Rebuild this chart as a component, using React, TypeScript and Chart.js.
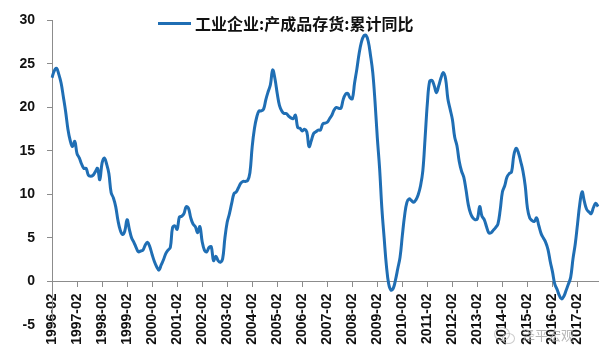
import React, { useEffect, useRef } from 'react';
import { Chart, registerables } from 'chart.js';

Chart.register(...registerables);

const SERIES_LABEL = '工业企业:产成品存货:累计同比';
const WATERMARK = '泽平宏观';
const LINE_COLOR = '#1F6EB4';
const AXIS_COLOR = '#8C8C8C';
const TEXT_COLOR = '#111111';

const YEARS = [1996, 1997, 1998, 1999, 2000, 2001, 2002, 2003, 2004, 2005, 2006, 2007, 2008, 2009, 2010, 2011, 2012, 2013, 2014, 2015, 2016, 2017];
const MONTHS = ['02', '03', '04', '05', '06', '07', '08', '09', '10', '11', '12'];

const v1996 = [23.4, 24.2, 24.5, 23.8, 22.8, 21.2, 19.5, 17.5, 16.2, 15.5, 16.1];
const v1997 = [14.7, 14.2, 13.5, 13.0, 13.0, 12.2, 12.1, 12.2, 12.6, 13.0, 11.7];
const v1998 = [13.6, 14.2, 13.5, 12.4, 10.2, 9.6, 8.6, 7.0, 5.9, 5.4, 5.8];
const v1999 = [7.1, 6.0, 5.0, 4.5, 3.9, 3.4, 3.5, 3.6, 4.2, 4.5, 4.0];
const v2000 = [3.1, 2.3, 1.7, 1.3, 1.9, 2.5, 3.2, 3.6, 3.9, 6.2, 6.4];
const v2001 = [6.0, 7.4, 7.5, 7.8, 8.6, 8.4, 7.3, 6.6, 6.3, 5.6, 6.3];
const v2002 = [4.6, 3.6, 3.4, 3.9, 4.0, 2.4, 2.9, 2.4, 2.2, 2.6, 5.0];
const v2003 = [6.8, 7.8, 9.0, 10.1, 10.3, 10.8, 11.3, 11.5, 11.5, 11.6, 12.5];
const v2004 = [15.5, 17.6, 18.9, 19.6, 19.6, 19.8, 20.9, 21.8, 22.6, 24.3, 23.3];
const v2005 = [21.6, 20.2, 19.6, 19.3, 19.3, 19.0, 18.8, 18.7, 19.1, 17.7, 17.6];
const v2006 = [17.3, 17.5, 17.2, 15.5, 16.2, 17.0, 17.2, 17.4, 17.4, 18.1, 18.2];
const v2007 = [18.3, 18.7, 19.1, 19.7, 20.0, 19.9, 19.9, 20.9, 21.5, 21.6, 21.1];
const v2008 = [21.0, 22.8, 24.4, 26.2, 27.5, 28.2, 28.3, 27.6, 26.0, 24.0, 20.6];
const v2009 = [16.5, 13.0, 8.4, 5.0, 1.8, -0.3, -1.0, -0.8, 0.2, 1.5, 2.8];
const v2010 = [5.3, 7.6, 9.1, 9.5, 9.3, 9.1, 9.4, 10.0, 11.0, 12.7, 16.5];
const v2011 = [20.5, 23.0, 23.1, 22.5, 21.7, 22.5, 23.4, 24.0, 23.3, 21.0, 19.8];
const v2012 = [18.6, 16.6, 15.6, 13.8, 12.7, 12.0, 10.5, 8.8, 7.8, 7.3, 7.1];
const v2013 = [7.2, 8.6, 7.5, 7.1, 6.3, 5.6, 5.6, 5.9, 6.2, 6.6, 8.2];
const v2014 = [10.3, 11.0, 12.0, 12.4, 12.6, 14.5, 15.3, 14.8, 13.8, 12.7, 11.0];
const v2015 = [8.4, 7.3, 7.0, 6.9, 7.3, 6.4, 5.5, 5.0, 4.5, 3.7, 2.3];
const v2016 = [1.1, -0.3, -0.9, -1.6, -2.0, -1.7, -1.0, -0.3, 0.5, 2.6, 4.3];
const v2017 = [6.6, 8.9, 10.3, 9.2, 8.3, 8.0, 7.8, 8.5, 9.0, 8.6];

const VALUES_BY_YEAR = [v1996, v1997, v1998, v1999, v2000, v2001, v2002, v2003, v2004, v2005, v2006, v2007, v2008, v2009, v2010, v2011, v2012, v2013, v2014, v2015, v2016, v2017];

const Y_MIN = -5;
const Y_MAX = 30;
const Y_STEP = 5;

const labels: string[] = [];
const values: number[] = [];
YEARS.forEach((year, i) => {
  VALUES_BY_YEAR[i].forEach((v, k) => {
    labels.push(`${year}-${MONTHS[k]}`);
    values.push(v);
  });
});

const isYearStart = (idx: number) => !!labels[idx] && labels[idx].endsWith('-02');

const tickFont = { family: '"Liberation Sans", Arial, sans-serif', size: 14, weight: 'bold' as const };

export default function App() {
  const canvasRef = useRef<HTMLCanvasElement | null>(null);

  useEffect(() => {
    if (!canvasRef.current) return;
    const chart = new Chart(canvasRef.current, {
      type: 'line',
      data: {
        labels,
        datasets: [
          {
            label: SERIES_LABEL,
            data: values,
            borderColor: LINE_COLOR,
            backgroundColor: LINE_COLOR,
            borderWidth: 3,
            pointRadius: 0,
            tension: 0.4,
            fill: false,
          },
        ],
      },
      options: {
        responsive: false,
        animation: false,
        layout: { padding: { left: 0, right: 2, top: 19, bottom: 35 } },
        plugins: {
          legend: { display: false },
          tooltip: { enabled: false },
        },
        scales: {
          x: {
            type: 'category',
            axis: 'x',
            position: { y: 0 } as any,
            offset: false,
            grid: {
              drawOnChartArea: false,
              drawTicks: true,
              tickLength: 5,
              tickColor: (ctx: any) => (isYearStart(ctx.index) ? AXIS_COLOR : 'rgba(0,0,0,0)'),
            },
            border: { display: true, color: AXIS_COLOR, width: 1 },
            ticks: {
              autoSkip: false,
              maxRotation: 90,
              minRotation: 90,
              padding: 7,
              color: TEXT_COLOR,
              font: tickFont,
              callback: (_v: any, idx: number) => (isYearStart(idx) ? labels[idx] : ''),
            },
            afterFit: (s: any) => {
              s.height = 0;
              s.paddingLeft = 0;
              s.paddingRight = 0;
            },
          } as any,
          y: {
            min: Y_MIN,
            max: Y_MAX,
            ticks: { stepSize: Y_STEP, padding: 12, color: TEXT_COLOR, font: tickFont },
            grid: { drawOnChartArea: false, drawTicks: true, tickLength: 5, color: AXIS_COLOR },
            border: { display: true, color: AXIS_COLOR, width: 1 },
            afterFit: (s: any) => {
              s.width = 52;
            },
          },
        },
      },
    });
    return () => chart.destroy();
  }, []);

  return (
    <div style={{ position: 'fixed', left: 0, top: 0, width: 600, height: 360, background: '#fff', overflow: 'hidden' }}>
      <canvas ref={canvasRef} width={600} height={360} style={{ position: 'absolute', left: 0, top: 0, width: 600, height: 360 }} />
      <div style={{ position: 'absolute', left: 158, top: 22, width: 33, height: 3, background: LINE_COLOR }} />
      <div
        style={{
          position: 'absolute',
          left: 195,
          top: 12,
          fontFamily: '"Noto Sans CJK SC", sans-serif',
          fontWeight: 700,
          fontSize: 16,
          lineHeight: '22px',
          color: TEXT_COLOR,
          whiteSpace: 'nowrap',
        }}
      >
        {SERIES_LABEL}
      </div>
      <div style={{ position: 'absolute', left: 494, top: 327, width: 14, height: 12, borderRadius: '50%', border: '1.5px solid rgba(185,185,185,0.75)' }} />
      <div style={{ position: 'absolute', left: 502, top: 333, width: 11, height: 9, borderRadius: '50%', border: '1.5px solid rgba(185,185,185,0.75)' }} />
      <div
        style={{
          position: 'absolute',
          left: 522,
          top: 326,
          fontFamily: '"Noto Sans CJK SC", sans-serif',
          fontSize: 13,
          letterSpacing: 0,
          lineHeight: '18px',
          color: 'rgba(165,165,165,0.8)',
          whiteSpace: 'nowrap',
        }}
      >
        {WATERMARK}
      </div>
    </div>
  );
}
